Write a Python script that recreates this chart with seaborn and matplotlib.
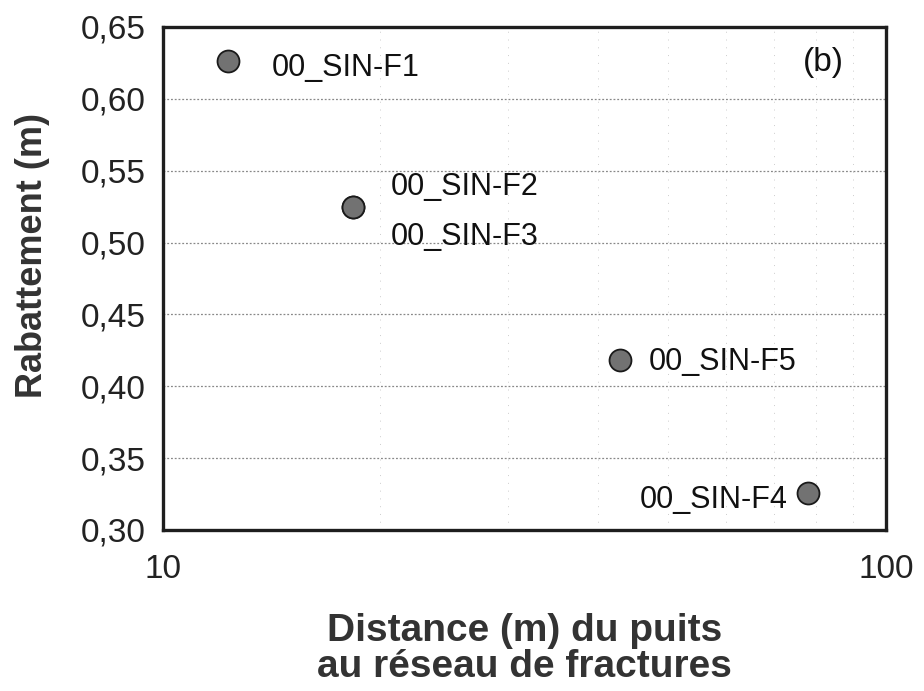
import matplotlib
matplotlib.use("Agg")
import matplotlib.pyplot as plt
import seaborn as sns
import pandas as pd
from matplotlib.ticker import FixedLocator, FixedFormatter, NullFormatter, LogLocator

names = ["00_SIN-F1", "00_SIN-F2", "00_SIN-F3", "00_SIN-F5", "00_SIN-F4"]
distance = [12.3, 18.3, 18.3, 42.9, 78.0]
rabattement = [0.626, 0.525, 0.525, 0.418, 0.326]
yticks = [0.30, 0.35, 0.40, 0.45, 0.50, 0.55, 0.60, 0.65]
ytick_labels = ["0,30", "0,35", "0,40", "0,45", "0,50", "0,55", "0,60", "0,65"]
xticks = [10, 100]
xtick_labels = ["10", "100"]

# label offsets in pixels (dx, dy) and horizontal alignment
offsets = {
    "00_SIN-F1": (44, -7, "left"),
    "00_SIN-F2": (38, 20, "left"),
    "00_SIN-F3": (38, -30, "left"),
    "00_SIN-F5": (29, -2, "left"),
    "00_SIN-F4": (-20, -7, "right"),
}

df = pd.DataFrame({"name": names, "distance": distance, "rabattement": rabattement})

sns.set_theme(style="white")
plt.rcParams["font.family"] = ["Liberation Sans", "DejaVu Sans"]

fig = plt.figure(figsize=(9.24, 6.91), dpi=100)
ax = fig.add_axes([0.176, 0.233, 0.783, 0.728])

ax.set_xscale("log")
sns.scatterplot(data=df, x="distance", y="rabattement", ax=ax, s=250,
                color="#727272", edgecolor="#1a1a1a", linewidth=1.3, zorder=3, legend=False)

ax.set_xlim(10, 100)
ax.set_ylim(0.30, 0.65)

ax.yaxis.set_major_locator(FixedLocator(yticks))
ax.yaxis.set_major_formatter(FixedFormatter(ytick_labels))
ax.xaxis.set_major_locator(FixedLocator(xticks))
ax.xaxis.set_major_formatter(FixedFormatter(xtick_labels))
ax.xaxis.set_minor_locator(LogLocator(base=10, subs=range(2, 10)))
ax.xaxis.set_minor_formatter(NullFormatter())

ax.grid(True, axis="y", which="major", linestyle=(0, (1.5, 1.5)), color="#888888", linewidth=0.9)
ax.grid(True, axis="x", which="minor", linestyle=(0, (1, 7)), color="#cccccc", linewidth=0.7)

for side in ["left", "bottom", "top", "right"]:
    ax.spines[side].set_linewidth(2.4)
    ax.spines[side].set_color("#1e1e1e")

ax.tick_params(axis="both", which="major", labelsize=24, colors="#222222",
               length=5, width=1.2, direction="inout", pad=10)
ax.tick_params(axis="x", which="major", pad=15)
ax.tick_params(axis="x", which="minor", length=0)

ax.set_xlabel("Distance (m) du puits\nau réseau de fractures", fontsize=28,
              fontweight="bold", color="#333333", labelpad=20, linespacing=1.0)
ax.set_ylabel("Rabattement (m)", fontsize=26, fontweight="bold", color="#333333")
ax.yaxis.set_label_coords(-0.156, 0.545)

for n, x, y in zip(names, distance, rabattement):
    dx, dy, ha = offsets[n]
    ax.annotate(n, (x, y), xytext=(dx * 0.72, dy * 0.72), textcoords="offset points",
                ha=ha, va="center", fontsize=22, color="#111111")

ax.text(0.913, 0.93, "(b)", transform=ax.transAxes, fontsize=24, color="#111111",
        ha="center", va="center")

fig.savefig("out.png", dpi=100)
